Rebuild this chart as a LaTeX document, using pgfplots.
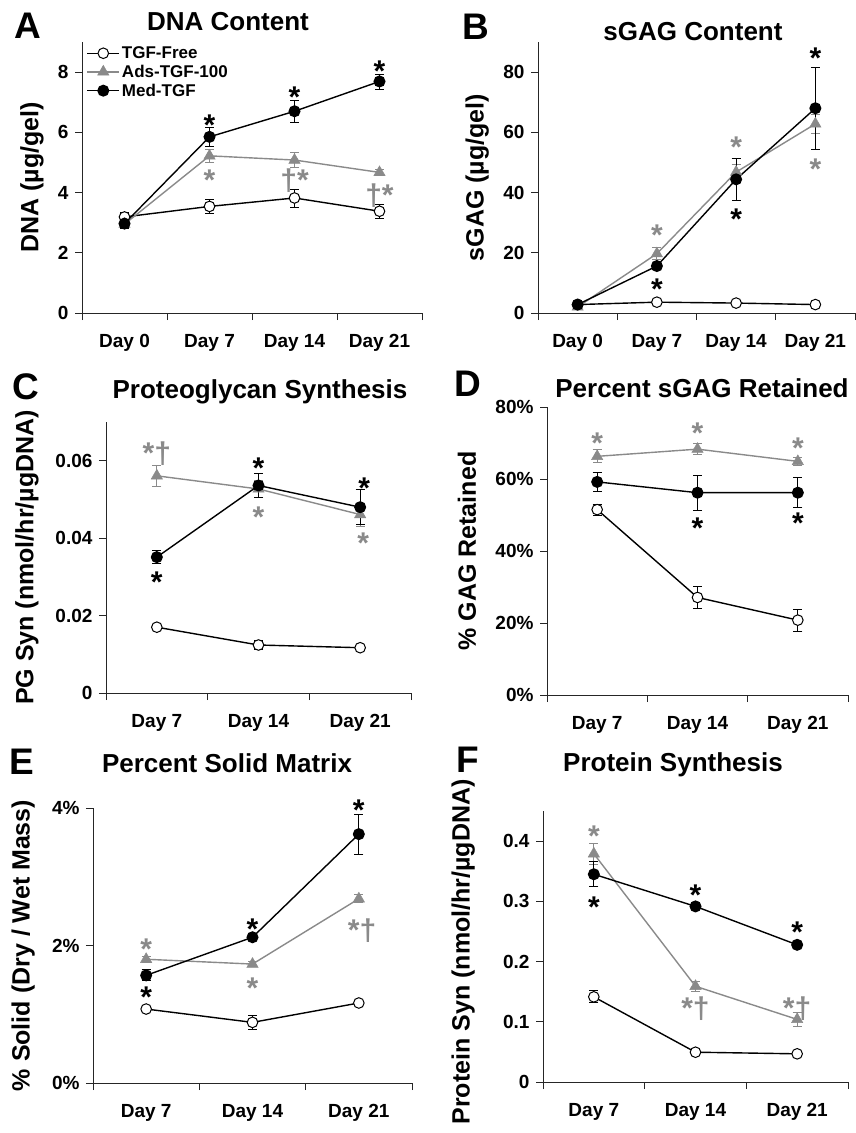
\documentclass[border=0pt]{standalone}
\usepackage{fontspec}
\setmainfont{Liberation Sans}
\usepackage{pgfplots}
\pgfplotsset{compat=1.18}
\definecolor{mygray}{RGB}{138,138,138}
\pgfplotsset{
  panel/.style={
    scale only axis,
    axis x line*=bottom, axis y line*=left,
    axis line style={line width=0.9pt, black!85},
    tick align=outside,
    major tick length=0pt,
    minor tick length=7pt,
    every minor tick/.append style={line width=0.9pt, black!85},
    ymin=0,
    tick label style={font=\bfseries\fontsize{19}{19}\selectfont},
    yticklabel style={xshift=-10pt},
    xticklabel style={yshift=-18pt},
    ylabel style={font=\bfseries\fontsize{25}{25}\selectfont, anchor=center},
    scaled y ticks=false,
    /pgf/number format/assume math mode=true,
    clip=false,
  },
  four/.style={xmin=-0.5,xmax=3.5, xtick={0,1,2,3}, xticklabels={Day 0,Day 7,Day 14,Day 21}, minor xtick={-0.5,0.5,1.5,2.5,3.5}},
  three/.style={xmin=-0.5,xmax=2.5, xtick={0,1,2}, xticklabels={Day 7,Day 14,Day 21}, minor xtick={-0.5,0.5,1.5,2.5}},
  errs/.style={error bars/y dir=both, error bars/y explicit,
    error bars/error bar style={line width=0.8pt},
    error bars/error mark options={rotate=90, mark size=4.5pt, line width=0.8pt}},
  free/.style={black, line width=1.4pt, mark=*, mark size=5.3pt, mark options={fill=white, line width=1pt}, errs},
  ads/.style={mygray, line width=1.4pt, mark=triangle*, mark size=6.5pt, mark options={fill=mygray, line width=0.5pt}, errs},
  med/.style={black, line width=1.4pt, mark=*, mark size=5.3pt, mark options={fill=black}, errs},
}
\tikzset{
  ast/.style={font=\bfseries\fontsize{30}{30}\selectfont, inner sep=0pt, anchor=base, yshift=-17pt},
  ttl/.style={font=\bfseries\fontsize{26}{26}\selectfont, inner sep=0pt, anchor=center},
  lett/.style={font=\bfseries\fontsize{37}{37}\selectfont, inner sep=0pt, anchor=center},
}
\begin{document}
\begin{tikzpicture}[x=1pt,y=1pt]
\useasboundingbox (0,0) rectangle (856,-1133);
% ---------------- A
\node[lett] at (28,-26) {A};
\node[ttl] at (228,-22) {DNA Content};
\begin{axis}[panel, four, at={(82pt,-313pt)}, anchor=south west, width=340pt, height=271pt,
  ymax=9, ytick={0,2,4,6,8}, yticklabels={0,2,4,6,8}, minor ytick={0,2,4,6,8},
  ylabel={DNA (µg/gel)}, ylabel style={at={(axis description cs:-0.147,0.5)}},
  legend style={draw=none, fill=none, at={(0.01,0.995)}, anchor=north west, font=\bfseries\fontsize{17}{17}\selectfont, row sep=1pt, inner sep=1pt},
  legend cell align=left,
  legend image code/.code={\draw[mark repeat=2,mark phase=2] plot coordinates {(0pt,0pt) (16pt,0pt) (32pt,0pt)};}]
\addplot[free] coordinates {(0,3.19) +- (0,0.15) (1,3.54) +- (0,0.22) (2,3.82) +- (0,0.30) (3,3.38) +- (0,0.24)};
\addlegendentry{TGF-Free}
\addplot[ads] coordinates {(0,2.95) +- (0,0.12) (1,5.22) +- (0,0.22) (2,5.08) +- (0,0.25) (3,4.67) +- (0,0.10)};
\addlegendentry{Ads-TGF-100}
\addplot[med] coordinates {(0,2.97) +- (0,0.15) (1,5.85) +- (0,0.32) (2,6.70) +- (0,0.37) (3,7.69) +- (0,0.25)};
\addlegendentry{Med-TGF}
\node[ast] at (axis cs:1,6.46) {*};
\node[ast] at (axis cs:2,7.38) {*};
\node[ast] at (axis cs:3,8.26) {*};
\node[ast,mygray] at (axis cs:1,4.64) {*};
\node[ast,mygray] at (axis cs:2,4.64) {†*};
\node[ast,mygray] at (axis cs:3,4.12) {†*};
\end{axis}
% ---------------- B
\node[lett] at (476,-27) {B};
\node[ttl] at (693,-32) {sGAG Content};
\begin{axis}[panel, four, at={(538pt,-313pt)}, anchor=south west, width=317pt, height=271pt,
  ymax=90, ytick={0,20,40,60,80}, yticklabels={0,20,40,60,80}, minor ytick={0,20,40,60,80},
  ylabel={sGAG (µg/gel)}, ylabel style={at={(axis description cs:-0.192,0.5)}}]
\addplot[free] coordinates {(0,2.8) +- (0,0.5) (1,3.6) +- (0,0.5) (2,3.3) +- (0,0.5) (3,2.8) +- (0,0.5)};
\addplot[ads] coordinates {(0,2.0) +- (0,0.5) (1,19.7) +- (0,2.0) (2,46.8) +- (0,2.5) (3,62.8) +- (0,3.0)};
\addplot[med] coordinates {(0,2.8) +- (0,0.5) (1,15.6) +- (0,1.0) (2,44.4) +- (0,7.1) (3,68.0) +- (0,13.5)};
\node[ast,mygray] at (axis cs:1,28.0) {*};
\node[ast] at (axis cs:1,10.1) {*};
\node[ast,mygray] at (axis cs:2,57.3) {*};
\node[ast] at (axis cs:2,33.3) {*};
\node[ast] at (axis cs:3,86.9) {*};
\node[ast,mygray] at (axis cs:3,50.1) {*};
\end{axis}
% ---------------- C
\node[lett] at (26,-387) {C};
\node[ttl] at (260,-392) {Proteoglycan Synthesis};
\begin{axis}[panel, three, at={(106pt,-693pt)}, anchor=south west, width=305pt, height=271pt,
  ymax=0.07, ytick={0,0.02,0.04,0.06}, yticklabels={0,0.02,0.04,0.06}, minor ytick={0,0.02,0.04,0.06},
  ylabel={PG Syn (nmol/hr/µgDNA)}, ylabel style={at={(axis description cs:-0.259,0.5)}}]
\addplot[free] coordinates {(0,0.0170) +- (0,0.0006) (1,0.0124) +- (0,0.0012) (2,0.0117) +- (0,0.0007)};
\addplot[ads] coordinates {(0,0.0561) +- (0,0.0027) (1,0.0527) +- (0,0.0022) (2,0.0461) +- (0,0.0030)};
\addplot[med] coordinates {(0,0.0351) +- (0,0.0017) (1,0.0536) +- (0,0.0032) (2,0.0480) +- (0,0.0045)};
\node[ast,mygray] at (axis cs:0,0.0636) {*†};
\node[ast] at (axis cs:0,0.0304) {*};
\node[ast] at (axis cs:1,0.0598) {*};
\node[ast,mygray] at (axis cs:1,0.0471) {*};
\node[ast] at (axis cs:2.04,0.0546) {*};
\node[ast,mygray] at (axis cs:2.03,0.0403) {*};
\end{axis}
% ---------------- D
\node[lett] at (468,-384) {D};
\node[ttl] at (702,-388) {Percent sGAG Retained};
\begin{axis}[panel, three, at={(547pt,-695pt)}, anchor=south west, width=301pt, height=288pt,
  ymax=80, ytick={0,20,40,60,80}, yticklabels={0\%,20\%,40\%,60\%,80\%}, minor ytick={0,20,40,60,80},
  ylabel={\% GAG Retained}, ylabel style={at={(axis description cs:-0.266,0.5)}}]
\addplot[free] coordinates {(0,51.5) +- (0,1.5) (1,27.1) +- (0,3.1) (2,20.8) +- (0,3.1)};
\addplot[ads] coordinates {(0,66.3) +- (0,1.8) (1,68.3) +- (0,1.5) (2,64.9) +- (0,1.0)};
\addplot[med] coordinates {(0,59.2) +- (0,2.6) (1,56.2) +- (0,4.9) (2,56.2) +- (0,4.2)};
\node[ast,mygray] at (axis cs:0,71.7) {*};
\node[ast,mygray] at (axis cs:1,74.5) {*};
\node[ast,mygray] at (axis cs:2,70.3) {*};
\node[ast] at (axis cs:1,48.1) {*};
\node[ast] at (axis cs:2,49.5) {*};
\end{axis}
% ---------------- E
\node[lett] at (22,-762) {E};
\node[ttl] at (227,-763) {Percent Solid Matrix};
\begin{axis}[panel, three, at={(93pt,-1083pt)}, anchor=south west, width=319pt, height=275pt,
  ymax=4, ytick={0,2,4}, yticklabels={0\%,2\%,4\%}, minor ytick={0,2,4},
  ylabel={\% Solid (Dry / Wet Mass)}, ylabel style={at={(axis description cs:-0.219,0.5)}}]
\addplot[free] coordinates {(0,1.076) +- (0,0.03) (1,0.882) +- (0,0.10) (2,1.164) +- (0,0.04)};
\addplot[ads] coordinates {(0,1.80) +- (0,0.04) (1,1.73) +- (0,0.04) (2,2.68) +- (0,0.06)};
\addplot[med] coordinates {(0,1.566) +- (0,0.08) (1,2.12) +- (0,0.05) (2,3.62) +- (0,0.29)};
\node[ast,mygray] at (axis cs:0,2.04) {*};
\node[ast] at (axis cs:0,1.35) {*};
\node[ast] at (axis cs:1,2.33) {*};
\node[ast,mygray] at (axis cs:1,1.48) {*};
\node[ast] at (axis cs:2,4.07) {*};
\node[ast,mygray] at (axis cs:2.03,2.32) {*†};
\end{axis}
% ---------------- F
\node[lett] at (468,-760) {F};
\node[ttl] at (673,-765) {Protein Synthesis};
\begin{axis}[panel, three, at={(543pt,-1082pt)}, anchor=south west, width=305pt, height=271pt,
  ymax=0.45, ytick={0,0.1,0.2,0.3,0.4}, yticklabels={0,0.1,0.2,0.3,0.4}, minor ytick={0,0.1,0.2,0.3,0.4},
  ylabel={Protein Syn (nmol/hr/µgDNA)}, ylabel style={at={(axis description cs:-0.262,0.48)}}]
\addplot[free] coordinates {(0,0.1414) +- (0,0.010) (1,0.0495) +- (0,0.003) (2,0.0468) +- (0,0.004)};
\addplot[ads] coordinates {(0,0.379) +- (0,0.017) (1,0.159) +- (0,0.008) (2,0.104) +- (0,0.012)};
\addplot[med] coordinates {(0,0.345) +- (0,0.021) (1,0.2916) +- (0,0.005) (2,0.2278) +- (0,0.003)};
\node[ast,mygray] at (axis cs:0,0.419) {*};
\node[ast] at (axis cs:0,0.301) {*};
\node[ast] at (axis cs:1,0.322) {*};
\node[ast,mygray] at (axis cs:1,0.133) {*†};
\node[ast] at (axis cs:2,0.260) {*};
\node[ast,mygray] at (axis cs:2,0.133) {*†};
\end{axis}
\end{tikzpicture}
\end{document}
